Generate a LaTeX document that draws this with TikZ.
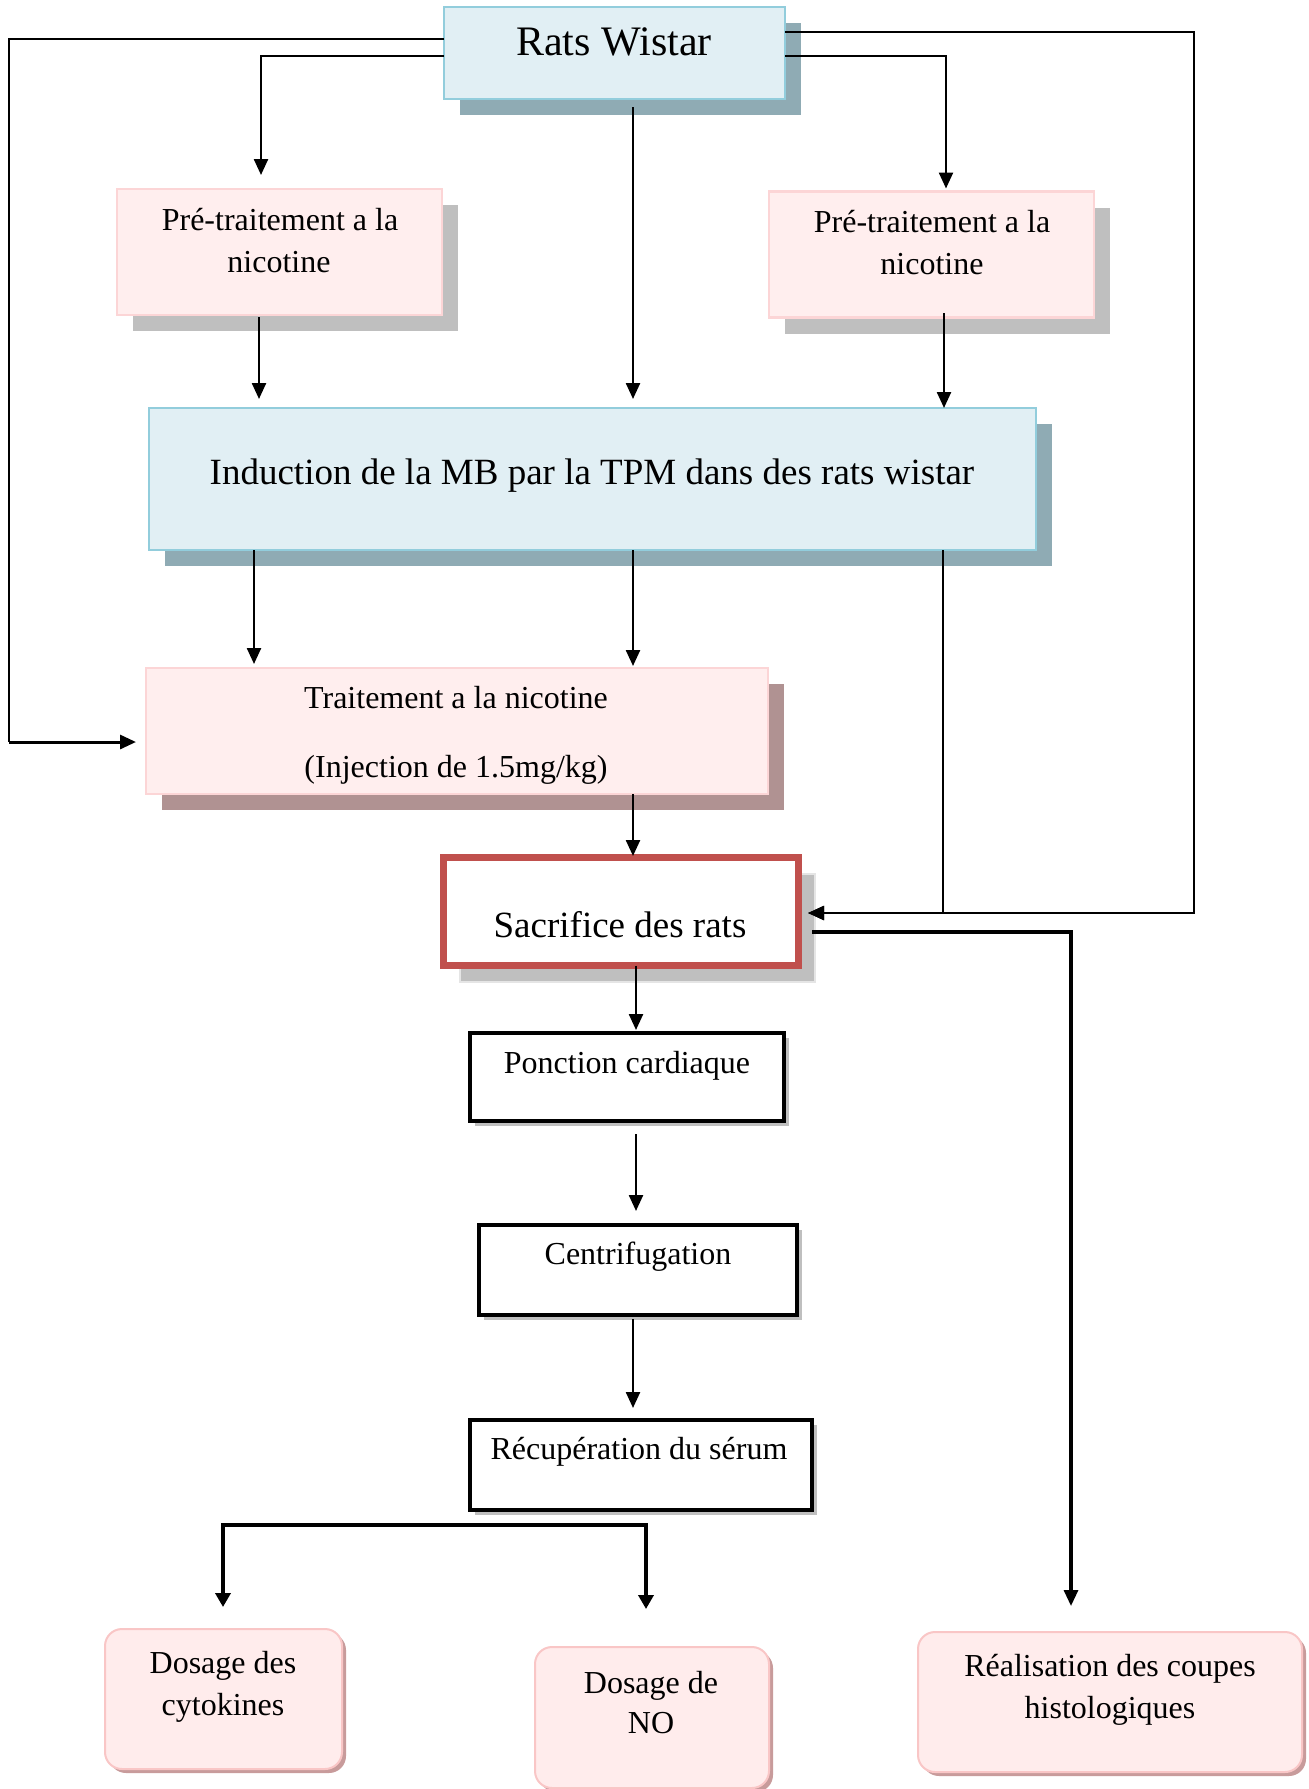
\documentclass[tikz,border=0pt]{standalone}
\usepackage{fontspec}
\setmainfont{Liberation Serif}
\usetikzlibrary{shadows,arrows.meta}
\definecolor{bfill}{HTML}{E1EFF4}
\definecolor{bdraw}{HTML}{92CDDC}
\definecolor{bshadow}{HTML}{8FABB4}
\definecolor{pfill}{HTML}{FFEEEE}
\definecolor{pdraw}{HTML}{FCD5D6}
\definecolor{gshadow}{HTML}{BFBFBF}
\definecolor{rshadow}{HTML}{B09292}
\definecolor{cred}{HTML}{C0504D}
\definecolor{rbfill}{HTML}{FFECEC}
\definecolor{rbdraw}{HTML}{F9C6C6}
\definecolor{rbshadow}{HTML}{C89B9B}
\begin{document}
\begin{tikzpicture}[x=0.5pt,y=-0.5pt,
  box/.style={rectangle, inner sep=0pt, outer sep=0pt},
  bluebox/.style={box, draw=bdraw, line width=1.25pt, fill=bfill,
    drop shadow={shadow xshift=8pt, shadow yshift=-8pt, fill=bshadow, opacity=1}},
  pinkbox/.style={box, draw=pdraw, line width=1.25pt, fill=pfill},
  grayshad/.style={drop shadow={shadow xshift=8pt, shadow yshift=-8pt, fill=gshadow, opacity=1}},
  rosyshad/.style={drop shadow={shadow xshift=8pt, shadow yshift=-8pt, fill=rshadow, opacity=1}},
  redbox/.style={box, draw=cred, line width=3.5pt, fill=white,
    drop shadow={shadow xshift=8pt, shadow yshift=-8pt, fill=gshadow, draw=gshadow!40, line width=1pt, opacity=1}},
  blackbox/.style={box, draw=black, line width=2pt, fill=white,
    drop shadow={shadow xshift=2.5pt, shadow yshift=-2.5pt, fill=black!25, opacity=1}},
  roundbox/.style={box, rounded corners=8.5pt, draw=rbdraw, line width=1pt, fill=rbfill,
    drop shadow={shadow xshift=2pt, shadow yshift=-2pt, fill=rbshadow, opacity=1}},
  txt/.style={inner sep=0pt, anchor=base},
  fbig/.style={font=\fontsize{21pt}{25pt}\selectfont},
  fmid/.style={font=\fontsize{18.5pt}{22pt}\selectfont},
  fpre/.style={font=\fontsize{16pt}{19pt}\selectfont},
  fsmall/.style={font=\fontsize{16pt}{19pt}\selectfont},
  conn/.style={line width=1.2pt, -{Triangle[length=8pt,width=7pt]}},
  thinline/.style={line width=0.85pt},
  thickconn/.style={line width=1.6pt, -{Triangle[length=8pt,width=7pt]}},
  bracket/.style={line width=2pt, {Triangle[length=7pt,width=7.5pt]}-{Triangle[length=7pt,width=7.5pt]}}
]
\useasboundingbox (0,0) rectangle (1309,1789);
\fill[white] (0,0) rectangle (1309,1789);

% boxes
\node[bluebox, minimum width=170.5pt, minimum height=46pt] (rw) at (614.5,53) {};
\node[pinkbox, grayshad, minimum width=162.5pt, minimum height=63pt] (preL) at (279.5,252) {};
\node[pinkbox, grayshad, minimum width=162.5pt, minimum height=63pt] (preR) at (931.5,254.5) {};
\node[bluebox, minimum width=443.5pt, minimum height=71pt] (ind) at (592.5,479) {};
\node[pinkbox, rosyshad, minimum width=311pt, minimum height=63pt] (trt) at (457,731) {};
\node[redbox, minimum width=177.5pt, minimum height=54pt] (sac) at (621,911.5) {};
\node[blackbox, minimum width=157pt, minimum height=44pt] (pon) at (627,1077) {};
\node[blackbox, minimum width=159pt, minimum height=45pt] (cen) at (638,1270) {};
\node[blackbox, minimum width=171pt, minimum height=45pt] (rec) at (641,1465) {};
\node[roundbox, minimum width=118.5pt, minimum height=70pt] (cyt) at (223.5,1699) {};
\node[roundbox, minimum width=117pt, minimum height=70.5pt] (no) at (652,1717.5) {};
\node[roundbox, minimum width=192pt, minimum height=70pt] (real) at (1110,1702) {};

% texts
\node[txt, fbig] (rwT) at (614,55) {Rats Wistar};
\node[txt, fpre] (preLT1) at (280,230) {Pré-traitement a la};
\node[txt, fpre] (preLT2) at (279,272) {nicotine};
\node[txt, fpre] (preRT1) at (932,232) {Pré-traitement a la};
\node[txt, fpre] (preRT2) at (932,274) {nicotine};
\node[txt, fmid] (indT) at (592,484) {Induction de la MB par la TPM dans des rats wistar};
\node[txt, fsmall] (trtT1) at (456,708) {Traitement a la nicotine};
\node[txt, fsmall] (trtT2) at (456,777) {(Injection de 1.5mg/kg)};
\node[txt, fmid] (sacT) at (620,937) {Sacrifice des rats};
\node[txt, fsmall] (ponT) at (627,1073) {Ponction cardiaque};
\node[txt, fsmall] (cenT) at (638,1264) {Centrifugation};
\node[txt, fsmall] (recT) at (639,1459) {Récupération du sérum};
\node[txt, fsmall] (cytT1) at (223,1673) {Dosage des};
\node[txt, fsmall] (cytT2) at (223,1715) {cytokines};
\node[txt, fsmall] (noT1) at (651,1693) {Dosage de};
\node[txt, fsmall] (noT2) at (651,1733) {NO};
\node[txt, fsmall] (realT1) at (1110,1676) {Réalisation des coupes};
\node[txt, fsmall] (realT2) at (1110,1718) {histologiques};

% connectors
\coordinate (lcorner) at (9,742);
\draw[thinline] ([shift={(0,32)}]rw.north west) -| (lcorner);
\draw[conn, line width=1.5pt] (lcorner) -- ([shift={(-10,11)}]trt.west);
\draw[conn] ([shift={(0,49)}]rw.north west) -| ([shift={(-18.5,-14)}]preL.north);
\draw[conn] ([shift={(0,49)}]rw.north east) -| ([shift={(14.5,-3)}]preR.north);
\draw[thinline, -{Triangle[length=8pt,width=7pt]}] ([shift={(0,25)}]rw.north east) -| (1194,913) -- ([shift={(9.5,1.5)}]sac.east);
\draw[conn] ([shift={(18.5,8)}]rw.south) -- ([shift={(40.5,-9)}]ind.north);
\draw[conn] ([shift={(-20.5,2)}]preL.south) -- ([shift={(-333.5,-9)}]ind.north);
\draw[conn] ([shift={(12.5,-4.5)}]preR.south) -- ([shift={(351.5,0)}]ind.north);
\draw[conn] ([shift={(-338.5,0)}]ind.south) -- ([shift={(-203,-4)}]trt.north);
\draw[conn] ([shift={(40.5,0)}]ind.south) -- ([shift={(176,-2)}]trt.north);
\draw[conn] ([shift={(350.5,0)}]ind.south) |- ([shift={(9.5,1.5)}]sac.east);
\draw[conn] ([shift={(176,0)}]trt.south) -- ([shift={(12,-1.5)}]sac.north);
\draw[conn] ([shift={(15,0)}]sac.south) -- ([shift={(9,-3)}]pon.north);
\draw[thickconn] ([shift={(13.5,20.5)}]sac.east) -| ([shift={(-39,-26)}]real.north);
\draw[conn] ([shift={(9,13)}]pon.south) -- ([shift={(-2,-14)}]cen.north);
\draw[conn] ([shift={(-5,4)}]cen.south) -- ([shift={(-8,-12)}]rec.north);
\draw[bracket] ([shift={(-0.5,-22)}]cyt.north) |- ([shift={(5,15)}]rec.south) -- ([shift={(-6,-38)}]no.north);
\end{tikzpicture}
\end{document}
